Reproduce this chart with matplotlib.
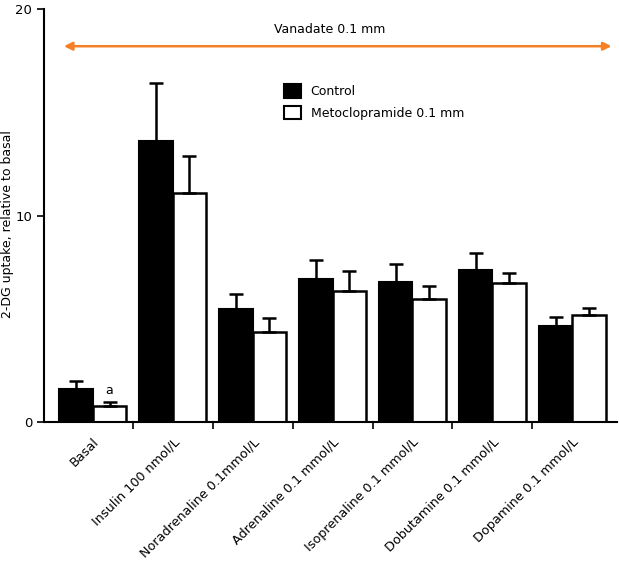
import matplotlib
matplotlib.use("Agg")
import matplotlib.pyplot as plt
import numpy as np
from matplotlib.patches import Patch

# data
groups = ["Basal", "Insulin 100 nmol/L", "Noradrenaline 0.1mmol/L",
          "Adrenaline 0.1 mmol/L", "Isoprenaline 0.1 mmol/L",
          "Dobutamine 0.1 mmol/L", "Dopamine 0.1 mmol/L"]
control = [1.6, 13.6, 5.47, 6.92, 6.8, 7.35, 4.66]
control_err = [0.4, 2.8, 0.71, 0.93, 0.85, 0.85, 0.44]
meto = [0.8, 11.1, 4.37, 6.36, 5.97, 6.72, 5.18]
meto_err = [0.17, 1.8, 0.65, 0.95, 0.62, 0.51, 0.32]

plt.rcParams['font.family'] = ['DejaVu Sans']
fig = plt.figure(figsize=(6.19, 5.65), dpi=100)
ax = fig.add_axes([0.071, 0.253, 0.926, 0.731])

x = np.arange(len(groups))
w = 0.42
ekw = dict(elinewidth=1.8, capsize=5, capthick=1.8, ecolor='black')
ax.bar(x - w/2, control, w, color='black', edgecolor='black', linewidth=1.5,
       yerr=[np.zeros(len(x)), control_err], error_kw=ekw, zorder=2)
ax.bar(x + w/2, meto, w, color='white', edgecolor='black', linewidth=1.8,
       yerr=[np.zeros(len(x)), meto_err], error_kw=ekw, zorder=2)

ax.text(x[0] + w/2, meto[0] + meto_err[0] + 0.25, "a", ha='center', va='bottom', fontsize=9)

ax.set_xlim(-0.61, 6.56)
ax.set_ylim(0, 20)
ax.set_yticks([0, 10, 20])
ax.set_xticks(x[:-1] + 0.5)
ax.set_xticklabels([])
ax.tick_params(axis='both', direction='out', length=5, width=1.2, labelsize=9.5)
for i, g in enumerate(groups):
    ax.text(x[i] + 0.0, -0.65, g, rotation=45, ha='right', va='top',
            fontsize=9.2, rotation_mode='anchor')
ax.spines['top'].set_visible(False)
ax.spines['right'].set_visible(False)
ax.spines['left'].set_linewidth(1.5)
ax.spines['bottom'].set_linewidth(1.5)
ax.set_ylabel("2-DG uptake, relative to basal", fontsize=9)
ax.yaxis.set_label_coords(-0.052, 0.479)

# vanadate arrow
ax.annotate("", xy=(-0.36, 18.2), xytext=(6.49, 18.2),
            arrowprops=dict(arrowstyle='<|-|>', color='#f58025', lw=1.8,
                            mutation_scale=12, shrinkA=0, shrinkB=0))
ax.text(2.97, 19.0, "Vanadate 0.1 mm", ha='center', va='center', fontsize=9)

handles = [Patch(facecolor='black', edgecolor='black', linewidth=1.5),
           Patch(facecolor='white', edgecolor='black', linewidth=1.5)]
ax.legend(handles, ["Control", "Metoclopramide 0.1 mm"], loc='upper left',
          bbox_to_anchor=(0.4, 0.845), frameon=False, fontsize=9,
          handlelength=1.3, handleheight=1.3, handletextpad=0.8, labelspacing=0.6)

fig.savefig("out.png", dpi=100)
